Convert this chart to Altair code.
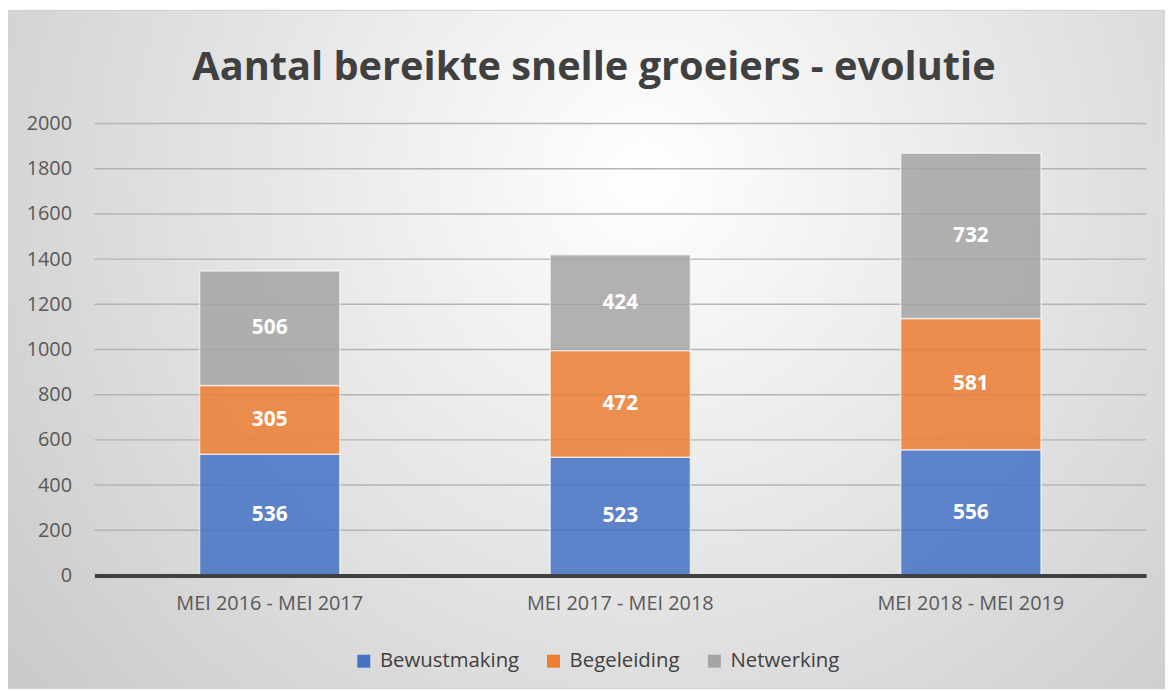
import altair as alt
import pandas as pd

periods = ["MEI 2016 - MEI 2017", "MEI 2017 - MEI 2018", "MEI 2018 - MEI 2019"]
series = ["Bewustmaking", "Begeleiding", "Netwerking"]
bewustmaking = [536, 523, 556]
begeleiding = [305, 472, 581]
netwerking = [506, 424, 732]
colors = ["#4472C4", "#ED7D31", "#A5A5A5"]
y_ticks = list(range(0, 2001, 200))
title_text = "Aantal bereikte snelle groeiers - evolutie"

rows = []
for i, p in enumerate(periods):
    for j, (s, vals) in enumerate(zip(series, [bewustmaking, begeleiding, netwerking])):
        rows.append({"period": p, "series": s, "order": j, "value": vals[i]})
df = pd.DataFrame(rows)
grid_df = pd.DataFrame({"tick": y_ticks[1:]})

FONT = "Open Sans"
W, H = 1059, 455
PL, PT, PR, PB = 87, 114, 19, 114

xenc = alt.X(
    "period:N", sort=periods,
    scale=alt.Scale(paddingInner=0.6, paddingOuter=0.3),
    axis=alt.Axis(title=None, labelAngle=0, labelFontSize=20, labelFont=FONT,
                  labelColor="#595959", labelPadding=18, labelLimit=0,
                  domainColor="#404040", domainWidth=4, ticks=False, grid=False,
                  zindex=1),
)
yscale = alt.Scale(domain=[0, 2000], nice=False)

bg = alt.Chart(alt.Data(values=[{}])).mark_rect(
    fill=alt.RadialGradient(
        gradient="radial", x1=0.55, y1=0.35, r1=0.0, x2=0.55, y2=0.35, r2=0.8,
        stops=[alt.GradientStop(offset=0, color="#ffffff"),
               alt.GradientStop(offset=1, color="#c2c2c2")],
    ),
    stroke="#d0d0d0", strokeWidth=1,
).encode(
    x=alt.value(-PL), x2=alt.value(W + PR),
    y=alt.value(-PT), y2=alt.value(H + PB),
)

grid = alt.Chart(grid_df).mark_rule(color="#b4b4b4", strokeWidth=1.5).encode(
    y=alt.Y("tick:Q", scale=yscale)
)

bars = alt.Chart(df).mark_bar(
    fillOpacity=0.85, stroke="white", strokeOpacity=0.6, strokeWidth=1.5
).encode(
    x=xenc,
    y=alt.Y("value:Q", stack="zero", scale=yscale,
            axis=alt.Axis(title=None, values=y_ticks, format="d", domain=False,
                          ticks=False, grid=False, labelFontSize=20, labelFont=FONT,
                          labelColor="#595959", labelPadding=23, zindex=1)),
    color=alt.Color("series:N", sort=series,
                    scale=alt.Scale(domain=series, range=colors),
                    legend=alt.Legend(title=None, orient="none", legendX=261, legendY=531,
                                      direction="horizontal", symbolType="square",
                                      symbolSize=170, labelFontSize=20.5, labelFont=FONT,
                                      labelColor="#404040", columnPadding=24,
                                      labelOffset=6, symbolStrokeWidth=0)),
    order=alt.Order("order:Q", sort="ascending"),
)

labels = alt.Chart(df).transform_stack(
    stack="value", groupby=["period"], as_=["y0", "y1"],
    sort=[alt.SortField("order", order="ascending")],
).transform_calculate(
    mid="(datum.y0 + datum.y1) / 2"
).mark_text(
    font=FONT, fontWeight="bold", fontSize=21, color="white", baseline="middle"
).encode(
    x=alt.X("period:N", sort=periods),
    y=alt.Y("mid:Q", scale=yscale),
    text="value:Q",
)

title = alt.Chart(alt.Data(values=[{"t": title_text}])).mark_text(
    font=FONT, fontWeight="bold", fontSize=40, color="#404040",
    align="center", baseline="alphabetic",
).encode(x=alt.value(503), y=alt.value(78 - 8 - PT), text="t:N")

chart = alt.layer(bg, grid, bars, labels, title).properties(
    width=W, height=H,
    autosize=alt.AutoSizeParams(type="none"),
    padding={"left": PL, "top": PT, "right": PR, "bottom": PB},
).configure_view(stroke=None).configure(background="white")

chart.save("out.html", embed_options={"renderer": "svg", "actions": False})
